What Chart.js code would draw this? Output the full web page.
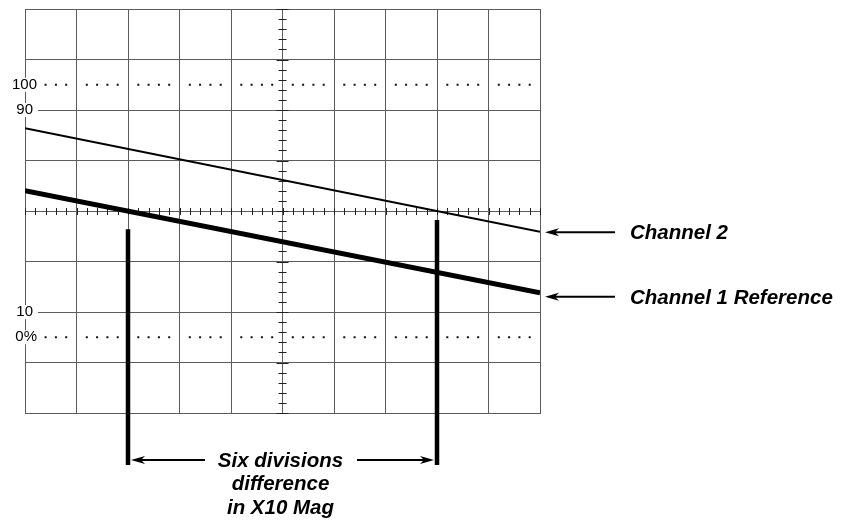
<!DOCTYPE html>
<html>
<head>
<meta charset="utf-8">
<script src="https://cdn.jsdelivr.net/npm/chart.js"></script>
<style>
  html, body { margin: 0; padding: 0; background: #fff; }
  #wrap { width: 849px; height: 521px; }
</style>
</head>
<body>
<div id="wrap"><canvas id="scope" width="849" height="521"></canvas></div>
<script>
// graticule is 10 x 8 divisions, y values are divisions from the centre line
const xDivs = [0, 10];
const channel2 = [1.64, -0.41];
const channel1Ref = [0.4, -1.62];
const markerX = [2, 8];
const markerTop = [-0.36, -0.18];
const markerBottom = [-5.03, -5.03];
const levelLabels = ['100', '90', '10', '0%'];
const levelValues = [2.5, 2, -2, -2.5];
const dottedLevels = [2.5, -2.5];
const traceLabels = ['Channel 2', 'Channel 1 Reference'];
const traceArrowY = [-0.42, -1.7];
const noteLines = ['Six divisions', 'difference', 'in X10 Mag'];
const noteY = -4.93;

const GRID = '#5c5c5c';
const FONT = '"Liberation Sans", Arial, sans-serif';

function toPoints(xs, ys) {
  return xs.map((v, i) => ({ x: v, y: ys[i] }));
}

function arrow(ctx, fromX, y, toX) {
  const dir = toX > fromX ? 1 : -1;
  ctx.beginPath();
  ctx.moveTo(fromX, y);
  ctx.lineTo(toX - dir * 8, y);
  ctx.stroke();
  ctx.beginPath();
  ctx.moveTo(toX, y);
  ctx.lineTo(toX - dir * 14, y - 4);
  ctx.lineTo(toX - dir * 10, y);
  ctx.lineTo(toX - dir * 14, y + 4);
  ctx.closePath();
  ctx.fill();
}

const graticule = {
  id: 'graticule',
  beforeDatasetsDraw(chart) {
    const { ctx, scales: { x, y } } = chart;
    const cx = x.getPixelForValue(5);
    const cy = y.getPixelForValue(0);
    ctx.save();
    ctx.strokeStyle = '#222';
    ctx.lineWidth = 1;
    // minor ticks on the centre cross, 5 per division
    for (let i = 0; i <= 50; i++) {
      const px = Math.round(x.getPixelForValue(i / 5)) + 0.5;
      ctx.beginPath();
      ctx.moveTo(px, cy - 3);
      ctx.lineTo(px, cy + 4);
      ctx.stroke();
    }
    for (let i = -20; i <= 20; i++) {
      const py = Math.round(y.getPixelForValue(i / 5)) + 0.5;
      const len = i % 5 === 0 ? 6 : 4;
      ctx.beginPath();
      ctx.moveTo(cx - len, py);
      ctx.lineTo(cx + len, py);
      ctx.stroke();
    }
    // dotted 0% and 100% lines
    ctx.fillStyle = '#111';
    dottedLevels.forEach((lv) => {
      const py = y.getPixelForValue(lv);
      for (let i = 0; i < 50; i++) {
        if (i % 5 === 0) continue;
        const px = x.getPixelForValue(i / 5);
        ctx.fillRect(px - 1, py - 1, 2, 2);
      }
    });
    ctx.restore();
  },
  afterDraw(chart) {
    const { ctx, chartArea: a, scales: { x, y } } = chart;
    ctx.save();
    ctx.fillStyle = '#000';
    ctx.strokeStyle = '#000';
    ctx.textBaseline = 'middle';

    // level labels on the left edge
    ctx.font = '15px ' + FONT;
    levelLabels.forEach((txt, i) => {
      const py = y.getPixelForValue(levelValues[i]);
      const right = txt === '100' || txt === '0%' ? a.left + 12 : a.left + 8;
      const w = ctx.measureText(txt).width;
      ctx.fillStyle = '#fff';
      ctx.fillRect(right - w - 1, py - 7, w + 6, 14);
      ctx.fillStyle = '#000';
      ctx.textAlign = 'right';
      ctx.fillText(txt, right, py);
    });

    // trace pointers on the right
    ctx.font = 'italic bold 20.5px ' + FONT;
    ctx.textAlign = 'left';
    ctx.lineWidth = 2;
    traceLabels.forEach((txt, i) => {
      const py = y.getPixelForValue(traceArrowY[i]);
      arrow(ctx, a.right + 75, py, a.right + 5);
      ctx.fillText(txt, a.right + 90, py + 1);
    });

    // six divisions note between the markers
    const y0 = y.getPixelForValue(noteY);
    const left = x.getPixelForValue(markerX[0]);
    const right = x.getPixelForValue(markerX[1]);
    const mid = (left + right) / 2 - 2;
    arrow(ctx, left + 77, y0, left + 3);
    arrow(ctx, right - 80, y0, right - 3);
    ctx.textAlign = 'center';
    noteLines.forEach((txt, i) => {
      ctx.fillText(txt, mid, y0 + 1 + i * 23.5);
    });
    ctx.restore();
  },
};

const markerSets = markerX.map((mx, i) => ({
  label: 'marker ' + (i + 1),
  data: toPoints([mx, mx], [markerTop[i], markerBottom[i]]),
  borderColor: '#000',
  borderWidth: 4.5,
  clip: false,
}));

new Chart(document.getElementById('scope'), {
  type: 'scatter',
  data: {
    datasets: [
      {
        label: 'Channel 2',
        data: toPoints(xDivs, channel2),
        borderColor: '#000',
        borderWidth: 2,
      },
      {
        label: 'Channel 1 Reference',
        data: toPoints(xDivs, channel1Ref),
        borderColor: '#000',
        borderWidth: 5,
      },
      ...markerSets,
    ],
  },
  options: {
    responsive: false,
    animation: false,
    showLine: true,
    elements: { point: { radius: 0, hoverRadius: 0 }, line: { tension: 0, borderCapStyle: 'butt' } },
    layout: { padding: { left: 25, top: 9, right: 309, bottom: 108 } },
    plugins: { legend: { display: false }, tooltip: { enabled: false } },
    scales: {
      x: {
        type: 'linear',
        min: 0,
        max: 10,
        ticks: { display: false, stepSize: 1 },
        grid: { color: GRID, lineWidth: 1, drawTicks: false },
        border: { color: GRID },
        afterFit: (s) => { s.height = 0; },
      },
      y: {
        type: 'linear',
        min: -4,
        max: 4,
        ticks: { display: false, stepSize: 1 },
        grid: { color: GRID, lineWidth: 1, drawTicks: false },
        border: { color: GRID },
        afterFit: (s) => { s.width = 0; },
      },
    },
  },
  plugins: [graticule],
});
</script>
</body>
</html>
